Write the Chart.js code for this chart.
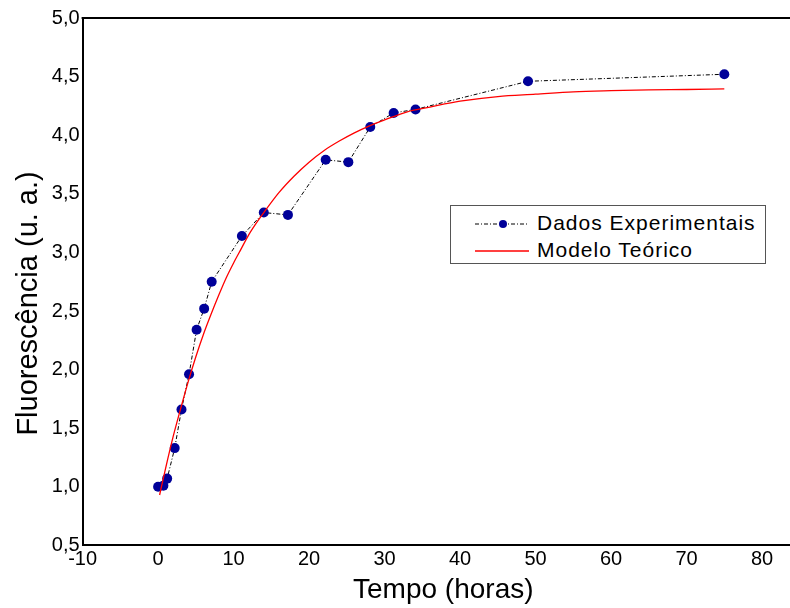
<!DOCTYPE html>
<html>
<head>
    <meta charset="utf-8" />
    <title>Fluorescência x Tempo</title>
    <script src="https://cdn.jsdelivr.net/npm/chart.js"></script>
    <style>
        body { margin: 0; background: #fff; }
        #box { position: relative; width: 790px; height: 608px; }
        #legenda {
            position: absolute; left: 450px; top: 205px; width: 314px; height: 57px;
            border: 1px solid #555; background: #fff;
            font-family: "Liberation Sans", Arial, sans-serif; font-size: 21px; letter-spacing: 1px; color: #000;
        }
        #legenda div { position: absolute; left: 24px; height: 26px; line-height: 26px; white-space: nowrap; }
        #legenda svg { vertical-align: middle; margin-right: 8px; }
    </style>
</head>
<body>
<div id="box">
    <canvas id="grafico" width="790" height="608"></canvas>
    <!-- legenda dentro da área do gráfico -->
    <div id="legenda">
        <div style="top: 4px;">
            <svg width="54" height="12"><line x1="0" y1="6" x2="54" y2="6" stroke="#000" stroke-width="1" stroke-dasharray="4,2,1,2"/><circle cx="28" cy="6" r="4" fill="#000099"/></svg>Dados Experimentais
        </div>
        <div style="top: 31px;">
            <svg width="54" height="12"><line x1="0" y1="6" x2="54" y2="6" stroke="#ff0000" stroke-width="1.3"/></svg>Modelo Teórico
        </div>
    </div>
</div>

<script>
    var tempoExp = [0, 0.7, 1.2, 2.2, 3.1, 4.1, 5.1, 6.1, 7.1, 11.1, 14, 17.2, 22.2, 25.2, 28.1, 31.2, 34.1, 49, 75];
    var fluorExp = [1.0, 1.01, 1.07, 1.33, 1.66, 1.96, 2.34, 2.52, 2.75, 3.14, 3.34, 3.32, 3.79, 3.77, 4.07, 4.19, 4.22, 4.46, 4.52];

    // Modelo teórico (curva vermelha, pontos lidos ao longo da linha)
    var tempoModelo = [0.2, 1, 2, 3, 4, 5, 6, 7, 8, 9, 10, 11, 12, 13, 14, 16, 18, 20, 22, 24, 26, 28, 30, 33, 36, 40, 45, 50, 55, 60, 65, 70, 75];
    var fluorModelo = [0.93, 1.16, 1.43, 1.67, 1.90, 2.11, 2.30, 2.47, 2.63, 2.78, 2.91, 3.03, 3.15, 3.25, 3.34, 3.51, 3.65, 3.77, 3.87, 3.95, 4.02, 4.08, 4.13, 4.20, 4.24, 4.29, 4.33, 4.35, 4.37, 4.38, 4.387, 4.39, 4.395];

    var ticksY = [0.5, 1.0, 1.5, 2.0, 2.5, 3.0, 3.5, 4.0, 4.5, 5.0];

    function pares(xs, ys) {
        return xs.map(function (x, i) { return { x: x, y: ys[i] }; });
    }

    var fonte = '"Liberation Sans", Arial, sans-serif';

    // linha superior da moldura
    var moldura = {
        id: 'moldura',
        afterDraw: function (chart) {
            var c = chart.ctx, a = chart.chartArea;
            c.save();
            c.strokeStyle = '#000';
            c.lineWidth = 2;
            c.beginPath();
            c.moveTo(a.left - 1, a.top);
            c.lineTo(a.right, a.top);
            c.stroke();
            c.restore();
        }
    };

    var ctx = document.getElementById('grafico').getContext('2d');
    var grafico = new Chart(ctx, {
        type: 'scatter',
        data: {
            datasets: [
                {
                    label: 'Modelo Teórico',
                    data: pares(tempoModelo, fluorModelo),
                    showLine: true,
                    borderColor: '#ff0000',
                    borderWidth: 1.3,
                    pointRadius: 0,
                    cubicInterpolationMode: 'monotone'
                },
                {
                    label: 'Dados Experimentais',
                    data: pares(tempoExp, fluorExp),
                    showLine: true,
                    borderColor: '#000',
                    borderWidth: 1,
                    borderDash: [4, 2, 1, 2],
                    pointRadius: 5,
                    pointBackgroundColor: '#000099',
                    pointBorderColor: '#000099',
                    pointBorderWidth: 0
                }
            ]
        },
        options: {
            responsive: false,
            animation: false,
            layout: { autoPadding: false, padding: { top: 18, right: 0, bottom: 1, left: 12 } },
            plugins: {
                legend: { display: false },
                tooltip: { enabled: false }
            },
            scales: {
                x: {
                    type: 'linear',
                    min: -10,
                    max: 83.7,
                    grid: { display: false, drawTicks: false },
                    border: { display: true, color: '#000', width: 2 },
                    afterFit: function (axis) {
                        // o eixo vai até a borda direita, sem folga
                        axis.paddingRight = 0;
                        axis.paddingLeft = 0;
                    },
                    ticks: {
                        stepSize: 10,
                        includeBounds: false,
                        padding: 2,
                        color: '#000',
                        font: { family: fonte, size: 20 }
                    },
                    title: {
                        display: true,
                        text: '\u2002Tempo (horas)',
                        color: '#000',
                        font: { family: fonte, size: 28 },
                        padding: { top: 0, bottom: 0 }
                    }
                },
                y: {
                    min: 0.5,
                    max: 5.0,
                    grid: { display: false, drawTicks: false },
                    border: { display: true, color: '#000', width: 2 },
                    afterBuildTicks: function (axis) {
                        axis.ticks = ticksY.map(function (v) { return { value: v }; });
                    },
                    ticks: {
                        padding: 3,
                        color: '#000',
                        font: { family: fonte, size: 20 },
                        callback: function (v) { return v.toFixed(1).replace('.', ','); }
                    },
                    title: {
                        display: true,
                        text: 'Fluorescência (u. a.)\u2003\u2002',
                        color: '#000',
                        font: { family: fonte, size: 29 },
                        padding: { top: 0, bottom: 2 }
                    }
                }
            }
        },
        plugins: [moldura]
    });
</script>
</body>
</html>
